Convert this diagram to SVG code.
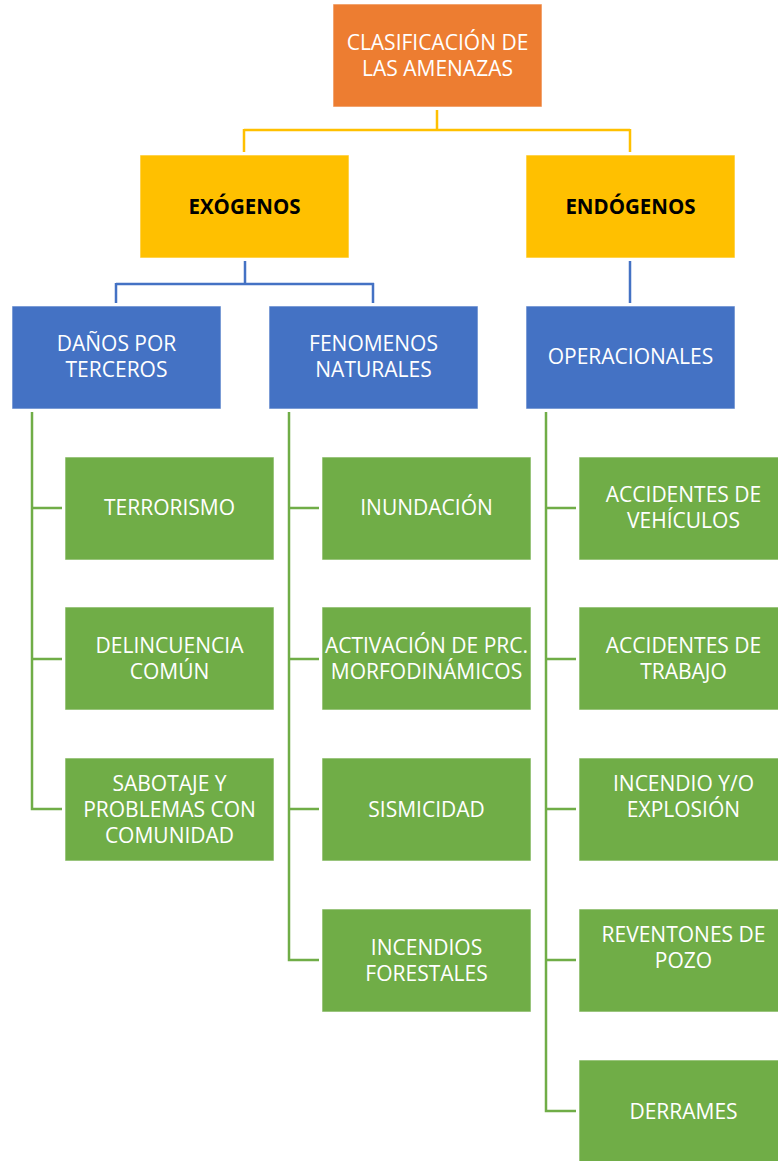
<svg xmlns="http://www.w3.org/2000/svg" width="778" height="1161" viewBox="0 0 778 1161">
  <style>
    .box { stroke: #ffffff; stroke-width: 1; stroke-opacity: 0.6; }
    .orange { fill: #ED7D31; }
    .yellow { fill: #FFC000; }
    .blue { fill: #4472C4; }
    .green { fill: #70AD47; }
    .lbl { font-family: "Open Sans", "Liberation Sans", sans-serif; font-size: 21px; fill: #ffffff; text-anchor: middle; }
    .bold { font-weight: bold; fill: #000000; font-size: 20.5px; }
    .ln { fill: none; stroke-width: 2.5; }
    .ly { stroke: #FFC000; }
    .lb { stroke: #4472C4; }
    .lg { stroke: #70AD47; }
  </style>

  <g id="connectors">
    <path class="ln ly" d="M437 110 V130 M244 130 H630 M244 129 V152 M630 129 V152"/>
    <path class="ln lb" d="M245 261 V284 M116 284 H374 M116 283 V303 M373 283 V303 M630 261 V303"/>
    <path class="ln lg" d="M32 412 V809 H62 M32 508 H62 M32 659 H62"/>
    <path class="ln lg" d="M289 412 V960 H319 M289 508 H319 M289 659 H319 M289 809 H319"/>
    <path class="ln lg" d="M546 412 V1111 H576 M546 508 H576 M546 659 H576 M546 809 H576 M546 960 H576"/>
  </g>

  <g id="root">
    <rect class="box orange" x="333" y="4" width="209" height="103"/>
    <text class="lbl" x="437.5" y="50">CLASIFICACIÓN DE</text>
    <text class="lbl" x="437.5" y="76">LAS AMENAZAS</text>
  </g>

  <g id="exogenos">
    <rect class="box yellow" x="140" y="155" width="209" height="103"/>
    <text class="lbl bold" x="244.5" y="214">EXÓGENOS</text>
  </g>
  <g id="endogenos">
    <rect class="box yellow" x="526" y="155" width="209" height="103"/>
    <text class="lbl bold" x="630.5" y="214">ENDÓGENOS</text>
  </g>

  <g id="danos">
    <rect class="box blue" x="12" y="306" width="209" height="103"/>
    <text class="lbl" x="116.5" y="351">DAÑOS POR</text>
    <text class="lbl" x="116.5" y="377">TERCEROS</text>
  </g>
  <g id="fenomenos">
    <rect class="box blue" x="269" y="306" width="209" height="103"/>
    <text class="lbl" x="373.5" y="351">FENOMENOS</text>
    <text class="lbl" x="373.5" y="377">NATURALES</text>
  </g>
  <g id="operacionales">
    <rect class="box blue" x="526" y="306" width="209" height="103"/>
    <text class="lbl" x="630.5" y="364">OPERACIONALES</text>
  </g>

  <g id="terrorismo">
    <rect class="box green" x="65" y="457" width="209" height="103"/>
    <text class="lbl" x="169.5" y="515">TERRORISMO</text>
  </g>
  <g id="delincuencia">
    <rect class="box green" x="65" y="607" width="209" height="103"/>
    <text class="lbl" x="169.5" y="653">DELINCUENCIA</text>
    <text class="lbl" x="169.5" y="679">COMÚN</text>
  </g>
  <g id="sabotaje">
    <rect class="box green" x="65" y="758" width="209" height="103"/>
    <text class="lbl" x="169.5" y="791">SABOTAJE Y</text>
    <text class="lbl" x="169.5" y="817">PROBLEMAS CON</text>
    <text class="lbl" x="169.5" y="843">COMUNIDAD</text>
  </g>

  <g id="inundacion">
    <rect class="box green" x="322" y="457" width="209" height="103"/>
    <text class="lbl" x="426.5" y="515">INUNDACIÓN</text>
  </g>
  <g id="activacion">
    <rect class="box green" x="322" y="607" width="209" height="103"/>
    <text class="lbl" x="426.5" y="653">ACTIVACIÓN DE PRC.</text>
    <text class="lbl" x="426.5" y="679">MORFODINÁMICOS</text>
  </g>
  <g id="sismicidad">
    <rect class="box green" x="322" y="758" width="209" height="103"/>
    <text class="lbl" x="426.5" y="817">SISMICIDAD</text>
  </g>
  <g id="incendios-forestales">
    <rect class="box green" x="322" y="909" width="209" height="103"/>
    <text class="lbl" x="426.5" y="955">INCENDIOS</text>
    <text class="lbl" x="426.5" y="981">FORESTALES</text>
  </g>

  <g id="accidentes-vehiculos">
    <rect class="box green" x="579" y="457" width="209" height="103"/>
    <text class="lbl" x="683.5" y="502">ACCIDENTES DE</text>
    <text class="lbl" x="683.5" y="528">VEHÍCULOS</text>
  </g>
  <g id="accidentes-trabajo">
    <rect class="box green" x="579" y="607" width="209" height="103"/>
    <text class="lbl" x="683.5" y="653">ACCIDENTES DE</text>
    <text class="lbl" x="683.5" y="679">TRABAJO</text>
  </g>
  <g id="incendio-explosion">
    <rect class="box green" x="579" y="758" width="209" height="103"/>
    <text class="lbl" x="683.5" y="791">INCENDIO Y/O</text>
    <text class="lbl" x="683.5" y="817">EXPLOSIÓN</text>
  </g>
  <g id="reventones">
    <rect class="box green" x="579" y="909" width="209" height="103"/>
    <text class="lbl" x="683.5" y="942">REVENTONES DE</text>
    <text class="lbl" x="683.5" y="968">POZO</text>
  </g>
  <g id="derrames">
    <rect class="box green" x="579" y="1060" width="209" height="103"/>
    <text class="lbl" x="683.5" y="1119">DERRAMES</text>
  </g>
</svg>
